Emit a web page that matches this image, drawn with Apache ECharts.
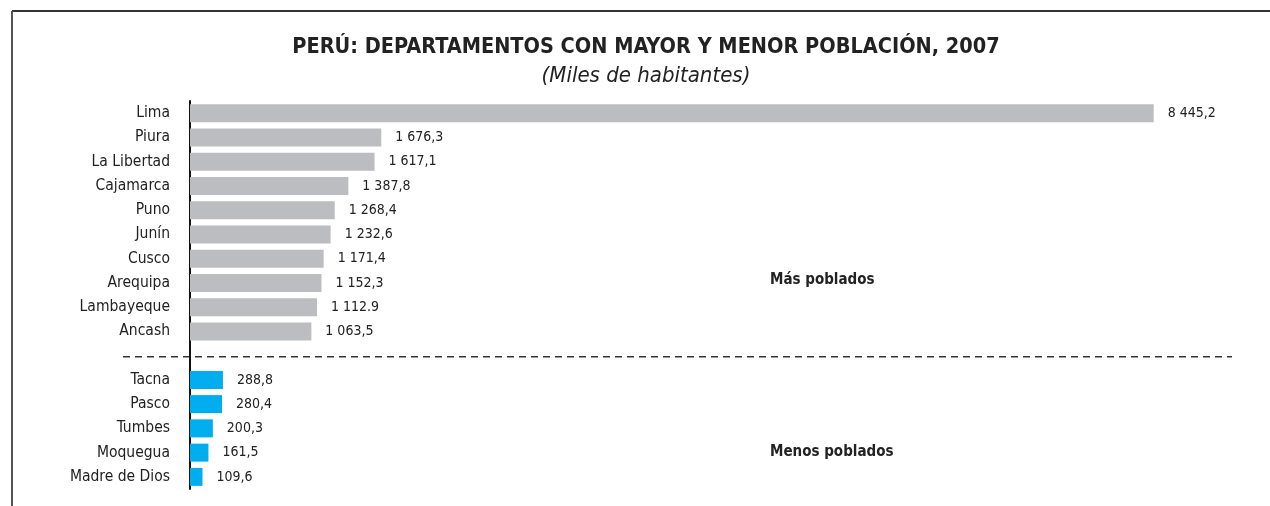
<!DOCTYPE html>
<html>
<head>
<meta charset="utf-8">
<title>Perú: departamentos con mayor y menor población, 2007</title>
<script src="https://cdn.jsdelivr.net/npm/echarts@6/dist/echarts.min.js"></script>
<style>
  html, body { margin: 0; padding: 0; background: #fff; }
  #chart { width: 1270px; height: 506px; }
</style>
</head>
<body>
<div id="chart"></div>
<script>
// departamentos (el vacío separa los dos grupos)
var departamentos = ['Lima', 'Piura', 'La Libertad', 'Cajamarca', 'Puno', 'Junín', 'Cusco', 'Arequipa', 'Lambayeque', 'Ancash',
  '', 'Tacna', 'Pasco', 'Tumbes', 'Moquegua', 'Madre de Dios']
var masPoblados = [8445.2, 1676.3, 1617.1, 1387.8, 1268.4, 1232.6, 1171.4, 1152.3, 1112.9, 1063.5,
  null, null, null, null, null, null]
var menosPoblados = [null, null, null, null, null, null, null, null, null, null,
  null, 288.8, 280.4, 200.3, 161.5, 109.6]
// etiquetas tal como aparecen en el gráfico
var etiquetas = ['8 445,2', '1 676,3', '1 617,1', '1 387,8', '1 268,4', '1 232,6', '1 171,4', '1 152,3', '1 112.9', '1 063,5',
  '', '288,8', '280,4', '200,3', '161,5', '109,6']

var font = '"DejaVu Sans Condensed", "Liberation Sans Narrow", sans-serif'
var chart = echarts.init(document.getElementById('chart'))

var labelOpt = {
  show: true,
  position: 'right',
  distance: 14,
  color: '#222',
  fontFamily: font,
  fontSize: 14,
  formatter: function (p) { return etiquetas[p.dataIndex] }
}

var option = {
  backgroundColor: '#fff',
  animation: false,
  title: [{
    text: 'PERÚ: DEPARTAMENTOS CON MAYOR Y MENOR POBLACIÓN, 2007',
    left: 641,
    textAlign: 'center',
    top: 31,
    textStyle: { fontFamily: font, fontWeight: 'bold', fontSize: 21.5, color: '#222' }
  }, {
    text: '(Miles de habitantes)',
    left: 641,
    textAlign: 'center',
    top: 60,
    textStyle: { fontFamily: font, fontStyle: 'italic', fontWeight: 'normal', fontSize: 22, color: '#222' }
  }],
  grid: { left: 190, right: 53, top: 101, height: 388 },
  xAxis: {
    type: 'value',
    min: 0,
    max: 9000,
    show: false
  },
  yAxis: {
    type: 'category',
    inverse: true,
    data: departamentos,
    axisLine: { show: true, lineStyle: { color: '#111', width: 2 } },
    axisTick: { show: false },
    axisLabel: { color: '#222', fontFamily: font, fontSize: 15.5, margin: 20 }
  },
  series: [{
    name: 'Más poblados',
    type: 'bar',
    stack: 'a',
    barWidth: 18,
    data: masPoblados,
    itemStyle: { color: '#bcbdc1' },
    label: labelOpt
  }, {
    name: 'Menos poblados',
    type: 'bar',
    stack: 'a',
    barWidth: 18,
    data: menosPoblados,
    itemStyle: { color: '#00aeef' },
    label: labelOpt
  }]
}
chart.setOption(option)

// separador, marco y títulos de grupo
var ySep = chart.convertToPixel({ yAxisIndex: 0 }, '')
var yMas = chart.convertToPixel({ yAxisIndex: 0 }, 'Arequipa')
var yMenos = chart.convertToPixel({ yAxisIndex: 0 }, 'Moquegua')
chart.setOption({
  graphic: [{
    type: 'line',
    shape: { x1: 12, y1: 11, x2: 1270, y2: 11 },
    style: { stroke: '#333', lineWidth: 2 }
  }, {
    type: 'line',
    shape: { x1: 12, y1: 11, x2: 12, y2: 506 },
    style: { stroke: '#555', lineWidth: 2 }
  }, {
    type: 'line',
    shape: { x1: 123, y1: ySep + 1, x2: 1232, y2: ySep + 1 },
    style: { stroke: '#333', lineWidth: 1.5, lineDash: [7, 5] }
  }, {
    type: 'text',
    x: 770,
    y: yMas - 3,
    style: { text: 'Más poblados', fill: '#222', font: 'bold 15px "DejaVu Sans Condensed"', textVerticalAlign: 'middle' }
  }, {
    type: 'text',
    x: 770,
    y: yMenos - 1,
    style: { text: 'Menos poblados', fill: '#222', font: 'bold 15px "DejaVu Sans Condensed"', textVerticalAlign: 'middle' }
  }]
})
</script>
</body>
</html>
